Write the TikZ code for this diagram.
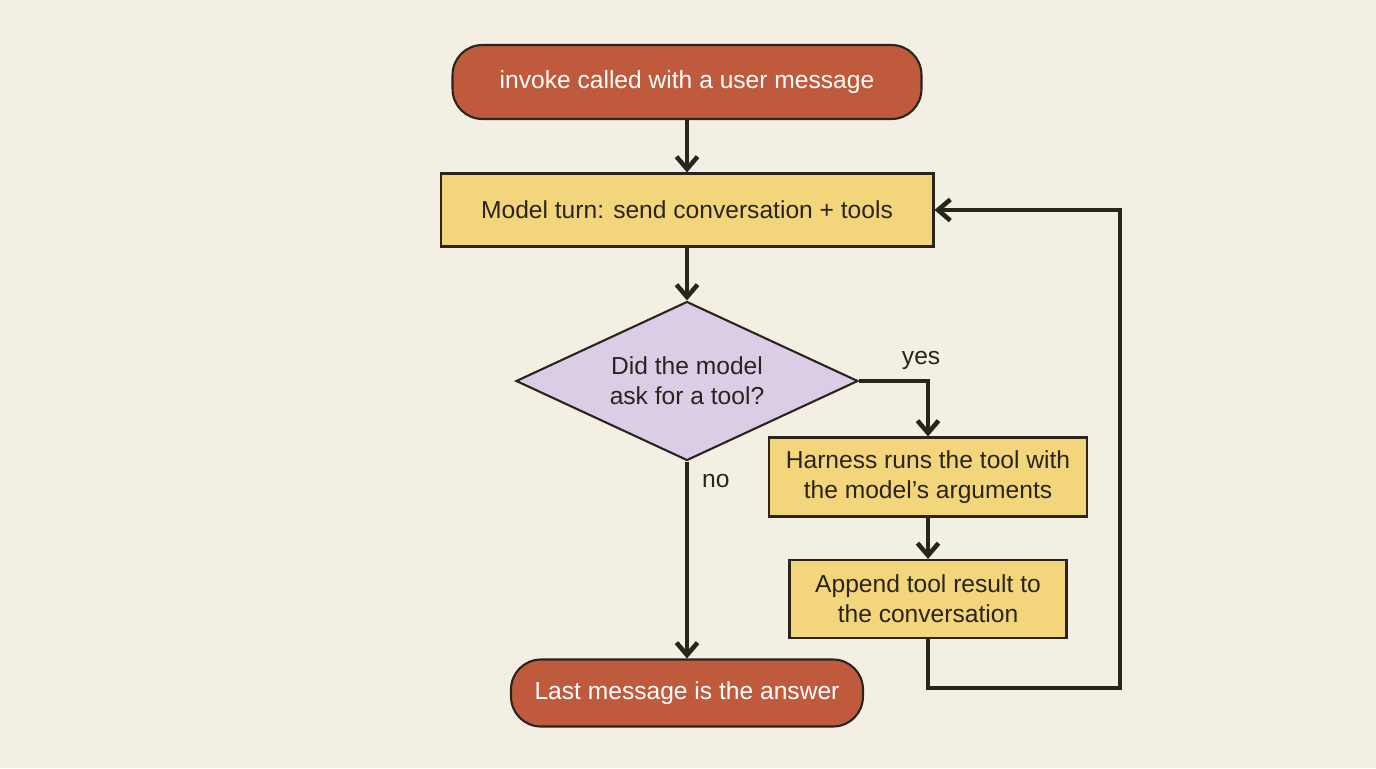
\documentclass[tikz,border=0pt]{standalone}
\usepackage{fontspec}
\setmainfont{Liberation Sans}
\usetikzlibrary{shapes.geometric,arrows.meta,positioning}
\definecolor{bgcream}{HTML}{F3EFE2}
\definecolor{termred}{HTML}{BF5A3C}
\definecolor{stepyellow}{HTML}{F3D67C}
\definecolor{decisionlilac}{HTML}{DCCDE6}
\definecolor{inkdark}{HTML}{2A241F}

\begin{document}
\begin{tikzpicture}[x=0.02cm, y=-0.02cm,
    every node/.style={font=\fontsize{14}{17}\selectfont, text=inkdark},
    terminal/.style={draw=inkdark, line width=1.2pt, fill=termred, rounded corners=17pt, text=white},
    process/.style={draw=inkdark, line width=1.2pt, fill=stepyellow, align=center},
    decision/.style={draw=inkdark, line width=1.2pt, fill=decisionlilac, diamond, aspect=2.15, align=center, inner sep=0pt},
    flow/.style={draw=inkdark, line width=2.6pt, -{Straight Barb[length=7pt, width=12pt, line width=2.6pt]}}]
    % Background
    \fill[bgcream] (0,0) rectangle (1376,768);

    % Main column
    \node[terminal, minimum width=9.38cm, minimum height=1.48cm] (start) at (687,82) {invoke called with a user message};
    \node[process, minimum width=9.86cm, minimum height=1.46cm] (turn) at (687,210) {Model turn: send conversation + tools};
    \node[decision, minimum width=6.84cm, minimum height=3.18cm] (ask) at (687,381) {Did the model\\ask for a tool?};
    \node[terminal, minimum width=7.04cm, minimum height=1.34cm] (answer) at (687,693) {Last message is the answer};

    % Tool branch
    \node[process, minimum width=6.36cm, minimum height=1.58cm] (run) at (928,477) {Harness runs the tool with\\the model's arguments};
    \node[process, minimum width=5.54cm, minimum height=1.56cm] (append) at (928,599) {Append tool result to\\the conversation};
    \coordinate (loopa) at (928,688);
    \coordinate (loopb) at (1120,688);
    \coordinate (loopc) at (1120,210);

    % Connectors
    \draw[flow] (start) -- (turn);
    \draw[flow] (turn) -- (ask);
    \draw[flow] (ask.east) -| node[pos=0.45, above, yshift=2pt] {yes} (run.north);
    \draw[flow] (ask.south) -- node[pos=0.1, right, xshift=4pt] {no} (answer.north);
    \draw[flow] (run) -- (append);
    \draw[flow] (append.south) -- (loopa) -- (loopb) -- (loopc) -- (turn.east);
\end{tikzpicture}
\end{document}
